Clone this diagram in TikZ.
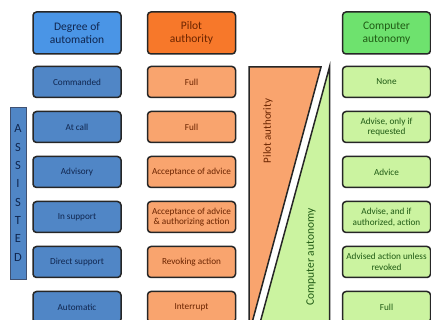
\documentclass[tikz,border=0pt]{standalone}
\usepackage{fontspec}
\setmainfont{Carlito}
\usepackage{tikz}
\usetikzlibrary{positioning}

\definecolor{blueHead}{HTML}{4A95E6}
\definecolor{blueRow}{HTML}{5086C6}
\definecolor{blueText}{HTML}{10264F}
\definecolor{orangeHead}{HTML}{F7782A}
\definecolor{orangeRow}{HTML}{F9A46E}
\definecolor{orangeText}{HTML}{6B2400}
\definecolor{greenHead}{HTML}{6EE26E}
\definecolor{greenRow}{HTML}{CBF3A0}
\definecolor{greenText}{HTML}{1F5A14}

\tikzset{
	box/.style={draw=black!85, line width=1.5pt, rounded corners=3.5pt, minimum width=88pt, minimum height=31pt, inner sep=0.5pt, align=center, font=\fontsize{9.2}{10.8}\selectfont},
	head/.style={box, minimum height=42pt, font=\fontsize{11.5}{13.5}\selectfont},
	bluebox/.style={fill=blueRow, text=blueText},
	orangebox/.style={fill=orangeRow, text=orangeText},
	greenbox/.style={fill=greenRow, text=greenText},
	wedge/.style={draw=black!85, line width=1.5pt, line join=miter}
}

\begin{document}
\begin{tikzpicture}[x=1pt, y=-1pt]
		\useasboundingbox (0,0) rectangle (431,320); \clip (0,0) rectangle (431,320);
		\node[head, fill=blueHead, text=blueText] (degree) at (77,33) {Degree of\\automation};
		\node[head, fill=orangeHead, text=orangeText] (pilot) at (191.5,33) {Pilot\\authority};
		\node[head, fill=greenHead, text=greenText] (computer) at (386.5,33) {Computer\\autonomy};

		\node[box, bluebox] (commanded) at (77,82) {Commanded}; \node[box, orangebox] (fullA) at (191.5,82) {Full}; \node[box, greenbox] (none) at (386.5,82) {None};
		\node[box, bluebox] (atcall) at (77,127) {At call}; \node[box, orangebox] (fullB) at (191.5,127) {Full}; \node[box, greenbox] (onlyif) at (386.5,127) {Advise, only if\\requested};
		\node[box, bluebox] (advisory) at (77,172) {Advisory}; \node[box, orangebox] (acceptance) at (191.5,172) {Acceptance of advice}; \node[box, greenbox] (advice) at (386.5,172) {Advice};
		\node[box, bluebox] (insupport) at (77,217) {In support}; \node[box, orangebox] (authorizing) at (191.5,217) {Acceptance of advice\\\& authorizing action}; \node[box, greenbox] (andif) at (386.5,217) {Advise, and if\\authorized, action};
		\node[box, bluebox] (direct) at (77,262) {Direct support}; \node[box, orangebox] (revoking) at (191.5,262) {Revoking action}; \node[box, greenbox] (unless) at (386.5,262) {Advised action unless\\revoked};
		\node[box, bluebox] (automatic) at (77,307) {Automatic}; \node[box, orangebox] (interrupt) at (191.5,307) {Interrupt}; \node[box, greenbox] (fullC) at (386.5,307) {Full};

		% assisted bar
		\node[draw=blueText!80, line width=0.6pt, fill=blueRow, text=blueText, minimum width=16pt, minimum height=172pt, inner sep=0pt, align=center, font=\fontsize{12.5}{18.3}\selectfont] (assisted) at (18,193) {A\\S\\S\\I\\S\\T\\E\\D};

		% authority wedges
		\draw[wedge, fill=orangeRow] (249,67) -- (321,67) -- (249,334) -- cycle;
		\draw[wedge, fill=greenRow] (329.5,67) -- (329.5,334) -- (257,334) -- cycle;
		\node[rotate=90, text=orangeText, font=\fontsize{11}{12}\selectfont] (pilotlabel) at (268,131) {Pilot authority};
		\node[rotate=90, text=greenText, font=\fontsize{11.5}{13}\selectfont] (computerlabel) at (311,257) {Computer autonomy};
	\end{tikzpicture}
\end{document}
